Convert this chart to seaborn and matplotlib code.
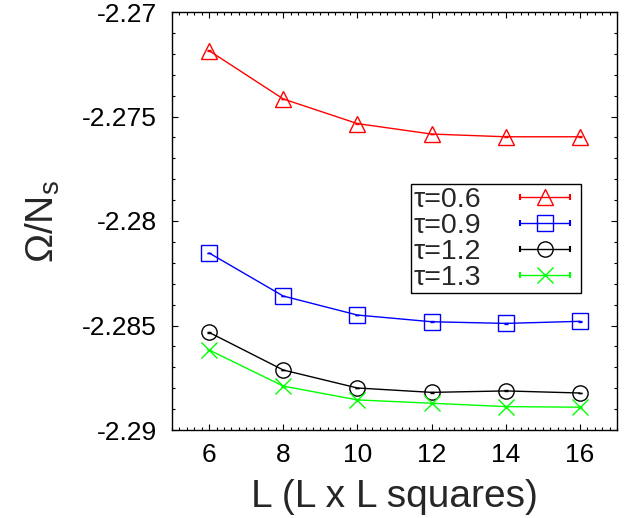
import matplotlib
matplotlib.use("Agg")
import matplotlib.pyplot as plt
import seaborn as sns
import numpy as np
from matplotlib.lines import Line2D
from matplotlib.legend_handler import HandlerLine2D, HandlerTuple
from matplotlib.ticker import MultipleLocator, FixedLocator, FixedFormatter

# ---- data ----
L_sizes = [6, 8, 10, 12, 14, 16]
labels = ["τ=0.6", "τ=0.9", "τ=1.2", "τ=1.3"]
omega_tau06 = [-2.27185, -2.27416, -2.27534, -2.27584, -2.27597, -2.27597]
omega_tau09 = [-2.28153, -2.28359, -2.28450, -2.28482, -2.28490, -2.28480]
omega_tau12 = [-2.28533, -2.28713, -2.28799, -2.28820, -2.28813, -2.28823]
omega_tau13 = [-2.28617, -2.28790, -2.28856, -2.28872, -2.28888, -2.28891]
err_small = [0.00002, 0.00002, 0.00002, 0.00002, 0.00002, 0.00002]
yticks = [-2.29, -2.285, -2.28, -2.275, -2.27]
ytick_labels = ["-2.29", "-2.285", "-2.28", "-2.275", "-2.27"]
xticks = [6, 8, 10, 12, 14, 16]

series = [omega_tau06, omega_tau09, omega_tau12, omega_tau13]
colors = ["#ff0000", "#0000ff", "#000000", "#00ff00"]
markers = ["^", "s", "o", "x"]
msizes = [12, 12, 11, 12]

sns.set_theme(style="ticks")
plt.rcParams["font.family"] = ["Liberation Sans", "DejaVu Sans"]
plt.rcParams["mathtext.fontset"] = "custom"
plt.rcParams["mathtext.rm"] = "Liberation Sans"
plt.rcParams["mathtext.it"] = "Liberation Sans"

fig = plt.figure(figsize=(6.4, 5.18), dpi=100)
ax = fig.add_axes([172/640, 1 - 430/518, 445/640, 418/518])

handles = []
for ys, c, m, ms, lab in zip(series, colors, markers, msizes, labels):
    sns.lineplot(x=L_sizes, y=ys, ax=ax, color=c, lw=1.0, marker=m,
                 markersize=ms, markerfacecolor="none", markeredgecolor=c,
                 markeredgewidth=1.0, legend=False)
    ax.errorbar(L_sizes, ys, yerr=err_small, fmt="none", ecolor=c,
                elinewidth=1.5, capsize=1.5)
    caps = Line2D([], [], color=c, lw=1.0, marker="|", markersize=4,
                  markeredgewidth=1.5)
    mk = Line2D([], [], color=c, lw=0, marker=m, markersize=ms,
                markerfacecolor="none", markeredgecolor=c, markeredgewidth=1.0)
    handles.append((caps, mk))

hmap = {h[0]: HandlerLine2D(numpoints=2) for h in handles}
hmap[tuple] = HandlerTuple(ndivide=1, pad=0.0)
leg = ax.legend(handles, labels, handler_map=hmap, loc="upper right",
                bbox_to_anchor=(0.919, 0.589), fontsize=20.5, markerfirst=False,
                handlelength=2.35, handletextpad=1.05, labelspacing=0.0,
                borderpad=0.1, borderaxespad=0.0, fancybox=False,
                framealpha=1.0, edgecolor="black", numpoints=1)
leg.get_frame().set_linewidth(1.0)

ax.set_xlim(5, 17)
ax.set_ylim(-2.29, -2.27)
ax.yaxis.set_major_locator(FixedLocator(yticks))
ax.yaxis.set_major_formatter(FixedFormatter(ytick_labels))
ax.yaxis.set_minor_locator(MultipleLocator(0.001))
ax.xaxis.set_major_locator(FixedLocator(xticks))
ax.xaxis.set_minor_locator(MultipleLocator(0.2))

ax.tick_params(which="both", direction="in", top=True, right=True,
               colors="black", labelsize=19, width=0.8)
ax.tick_params(which="major", length=4)
ax.tick_params(which="minor", length=2)
ax.tick_params(axis="y", which="major", pad=11)
ax.tick_params(axis="x", which="major", pad=9)
for s in ax.spines.values():
    s.set_visible(True)
    s.set_color("black")
    s.set_linewidth(1.0)

ax.set_xlabel("L (L x L squares)", fontsize=28, labelpad=9)
ax.set_ylabel(r"$\Omega$/N$_\mathrm{s}$", fontsize=28, labelpad=14)

fig.savefig("out.png", dpi=100)
